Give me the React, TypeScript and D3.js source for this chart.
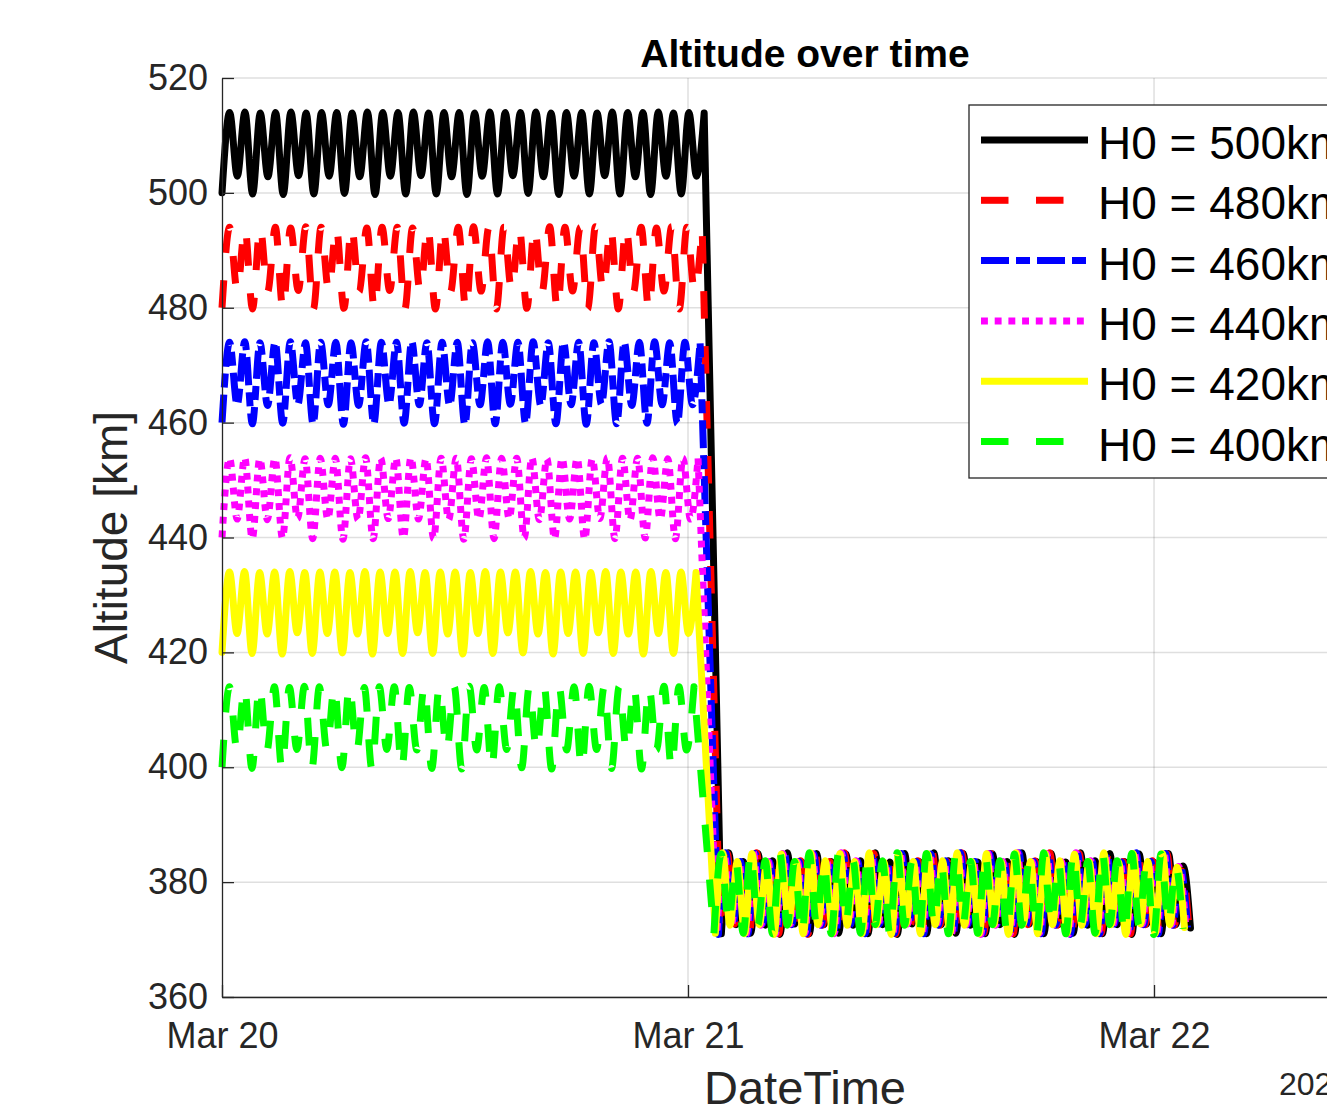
import React, { useEffect, useRef } from 'react';
import * as d3 from 'd3';

// legend / series
const seriesNames = ['H0 = 500km', 'H0 = 480km', 'H0 = 460km', 'H0 = 440km', 'H0 = 420km', 'H0 = 400km'];
const seriesColors = ['#000000', '#ff0000', '#0000ff', '#ff00ff', '#ffff00', '#00ff00'];
const seriesDash = [null, '27.5,27.5', '28,7,14,7', '6.9,6.8', null, '27.5,27.5'];

// orbit period (minutes) before the drop, read from trough spacing
const phase1Period = [94.6, 94.2, 93.8, 93.4, 93.0, 92.6];
// start of the low orbit (minutes after Mar 20 00:00) and its period
const phase2Start = [1543, 1538.5, 1534, 1529, 1524.5, 1520];
const phase2Period = 90.6;

// altitude at each extremum (km): start, then peak / shallow trough / peak / deep trough per orbit
const alt500 = [
  500.0,
  514.0, 502.9, 514.1, 499.8, 513.9, 502.8, 514.0, 499.7, 514.1, 503.0, 513.9, 499.8,
  514.0, 502.9, 514.0, 499.9, 513.9, 502.8, 514.1, 499.7, 514.0, 502.9, 514.0, 499.8,
  514.1, 503.0, 513.9, 499.8, 514.0, 502.8, 514.0, 499.7, 513.9, 502.9, 514.1, 499.8,
  514.0, 503.0, 514.0, 499.9, 514.1, 502.8, 513.9, 499.7, 514.0, 502.9, 514.0, 499.8,
  513.9, 503.0, 514.1, 499.8, 514.0, 502.8, 514.0, 499.7, 514.1, 502.9, 513.9, 499.8,
  514.0, 502.9, 513.9,
];
const alt480 = [
  480.0,
  494.0, 482.9, 493.9, 479.8, 494.1, 482.8, 494.0, 479.7, 493.9, 483.0, 494.1, 479.8,
  494.0, 482.9, 494.0, 479.9, 494.1, 482.8, 493.9, 479.7, 494.0, 483.0, 494.0, 479.8,
  493.9, 482.9, 494.1, 479.8, 494.0, 482.8, 494.0, 479.7, 494.1, 482.9, 493.9, 479.8,
  494.0, 483.0, 494.0, 479.9, 493.9, 482.8, 494.1, 479.7, 494.0, 482.9, 494.0, 479.8,
  494.1, 483.0, 493.9, 479.8, 494.0, 482.8, 494.0, 479.7, 493.9, 482.9, 494.1, 479.8,
  494.0, 482.9, 494.0,
];
const alt460 = [
  460.0,
  474.0, 463.1, 474.1, 459.8, 473.9, 463.0, 474.0, 459.9, 474.1, 463.2, 473.9, 459.8,
  474.0, 463.1, 474.0, 459.7, 473.9, 463.0, 474.1, 459.8, 474.0, 463.2, 474.0, 459.9,
  474.1, 463.1, 473.9, 459.8, 474.0, 463.0, 474.0, 459.7, 473.9, 463.1, 474.1, 459.8,
  474.0, 463.2, 474.0, 459.9, 474.1, 463.0, 473.9, 459.8, 474.0, 463.1, 474.0, 459.7,
  473.9, 463.2, 474.1, 459.8, 474.0, 463.0, 474.0, 459.9, 474.1, 463.1, 473.9, 459.8,
  474.0, 463.1, 474.0,
];
const alt440 = [
  440.0,
  453.8, 443.2, 453.9, 439.8, 453.7, 443.1, 453.8, 439.9, 453.9, 443.3, 453.7, 439.8,
  453.8, 443.2, 453.8, 439.7, 453.7, 443.1, 453.9, 439.8, 453.8, 443.3, 453.8, 439.9,
  453.9, 443.2, 453.7, 439.8, 453.8, 443.1, 453.8, 439.7, 453.7, 443.2, 453.9, 439.8,
  453.8, 443.3, 453.8, 439.9, 453.9, 443.1, 453.7, 439.8, 453.8, 443.2, 453.8, 439.7,
  453.7, 443.3, 453.9, 439.8, 453.8, 443.1, 453.8, 439.9, 453.9, 443.2, 453.7, 439.8,
  453.8, 443.2, 453.8,
];
const alt420 = [
  420.0,
  434.0, 423.3, 434.1, 419.8, 433.9, 423.2, 434.0, 419.7, 434.1, 423.4, 433.9, 419.8,
  434.0, 423.3, 434.0, 419.9, 433.9, 423.2, 434.1, 419.7, 434.0, 423.3, 434.0, 419.8,
  434.1, 423.4, 433.9, 419.8, 434.0, 423.2, 434.0, 419.7, 433.9, 423.3, 434.1, 419.8,
  434.0, 423.4, 434.0, 419.9, 434.1, 423.2, 433.9, 419.7, 434.0, 423.3, 434.0, 419.8,
  433.9, 423.4, 434.1, 419.8, 434.0, 423.2, 434.0, 419.7, 434.1, 423.3, 433.9, 419.8,
  434.0, 423.3, 433.9,
];
const alt400 = [
  400.0,
  414.0, 403.0, 413.9, 399.8, 414.1, 402.9, 414.0, 399.7, 413.9, 403.1, 414.1, 399.8,
  414.0, 403.0, 414.0, 399.9, 414.1, 402.9, 413.9, 399.7, 414.0, 403.1, 414.0, 399.8,
  413.9, 403.0, 414.1, 399.8, 414.0, 402.9, 414.0, 399.7, 414.1, 403.0, 413.9, 399.8,
  414.0, 403.1, 414.0, 399.9, 413.9, 402.9, 414.1, 399.7, 414.0, 403.0, 414.0, 399.8,
  414.1, 403.1, 413.9, 399.8, 414.0, 402.9, 414.0, 399.7, 413.9, 403.0, 414.1, 399.8,
  414.0, 403.0, 414.0,
];

// low orbit after the drop: deep trough / peak / shallow trough / peak per orbit, then end point
const low500 = [
  371.0, 385.1, 372.6, 383.6, 371.1, 385.0, 372.5, 383.7, 370.9, 385.1, 372.7, 383.5,
  371.0, 385.0, 372.6, 383.6, 371.1, 384.9, 372.5, 383.7, 371.0, 385.1, 372.6, 383.5,
  370.9, 385.0, 372.7, 383.6, 371.0, 385.1, 372.6, 383.7, 371.1, 385.0, 372.5, 383.5,
  371.0, 384.9, 372.6, 383.6, 370.9, 385.1, 372.7, 383.6, 371.0, 385.0, 372.6, 383.5,
  371.1, 385.1, 372.5, 383.7, 371.0, 385.0, 372.6, 383.6, 370.9, 384.9, 372.7, 383.5,
  371.0, 385.0, 372.6, 382.8, 372.0,
];
const low480 = [
  371.1, 385.0, 372.7, 383.5, 371.0, 385.1, 372.6, 383.6, 371.0, 384.9, 372.6, 383.7,
  370.9, 385.0, 372.5, 383.6, 371.0, 385.1, 372.7, 383.5, 371.1, 385.0, 372.6, 383.6,
  371.0, 384.9, 372.6, 383.7, 370.9, 385.0, 372.5, 383.6, 371.0, 385.1, 372.7, 383.5,
  371.1, 385.0, 372.6, 383.6, 371.0, 384.9, 372.6, 383.7, 370.9, 385.1, 372.5, 383.6,
  371.0, 385.0, 372.7, 383.5, 371.1, 385.1, 372.6, 383.6, 371.0, 385.0, 372.6, 383.7,
  370.9, 384.9, 372.5, 382.7, 371.9,
];
const low460 = [
  370.9, 385.1, 372.6, 383.6, 371.0, 385.0, 372.7, 383.5, 371.1, 385.1, 372.6, 383.6,
  371.0, 384.9, 372.5, 383.7, 370.9, 385.0, 372.6, 383.6, 371.0, 385.1, 372.7, 383.5,
  371.1, 385.0, 372.6, 383.6, 371.0, 384.9, 372.5, 383.7, 370.9, 385.1, 372.6, 383.6,
  371.0, 385.0, 372.7, 383.5, 371.1, 385.1, 372.6, 383.6, 371.0, 385.0, 372.5, 383.7,
  370.9, 384.9, 372.6, 383.6, 371.0, 385.0, 372.7, 383.5, 371.1, 385.1, 372.6, 383.6,
  371.0, 385.0, 372.5, 382.8, 372.1,
];
const low440 = [
  371.0, 385.0, 372.6, 383.7, 370.9, 385.1, 372.5, 383.6, 371.0, 385.0, 372.7, 383.5,
  371.1, 384.9, 372.6, 383.6, 371.0, 385.1, 372.6, 383.7, 370.9, 385.0, 372.5, 383.6,
  371.0, 385.1, 372.7, 383.5, 371.1, 385.0, 372.6, 383.6, 371.0, 384.9, 372.6, 383.7,
  370.9, 385.0, 372.5, 383.6, 371.0, 385.1, 372.7, 383.5, 371.1, 385.0, 372.6, 383.6,
  371.0, 385.1, 372.6, 383.7, 370.9, 384.9, 372.5, 383.6, 371.0, 385.0, 372.7, 383.5,
  371.1, 385.1, 372.6, 382.7, 372.0,
];
const low420 = [
  371.1, 385.1, 372.5, 383.6, 371.0, 385.0, 372.6, 383.5, 370.9, 384.9, 372.7, 383.6,
  371.0, 385.1, 372.6, 383.7, 371.1, 385.0, 372.5, 383.6, 371.0, 385.1, 372.6, 383.5,
  370.9, 385.0, 372.7, 383.6, 371.0, 384.9, 372.6, 383.7, 371.1, 385.1, 372.5, 383.6,
  371.0, 385.0, 372.6, 383.5, 370.9, 385.1, 372.7, 383.6, 371.0, 385.0, 372.6, 383.7,
  371.1, 384.9, 372.5, 383.6, 371.0, 385.1, 372.6, 383.5, 370.9, 385.0, 372.7, 383.6,
  371.0, 385.0, 372.6, 382.6, 372.1,
];
const low400 = [
  371.0, 384.9, 372.7, 383.6, 371.1, 385.1, 372.6, 383.7, 371.0, 385.0, 372.5, 383.6,
  370.9, 385.1, 372.6, 383.5, 371.0, 385.0, 372.7, 383.6, 371.1, 384.9, 372.6, 383.7,
  371.0, 385.1, 372.5, 383.6, 370.9, 385.0, 372.6, 383.5, 371.0, 385.1, 372.7, 383.6,
  371.1, 385.0, 372.6, 383.7, 371.0, 384.9, 372.5, 383.6, 370.9, 385.1, 372.6, 383.5,
  371.0, 385.0, 372.7, 383.6, 371.1, 385.1, 372.6, 383.7, 371.0, 385.0, 372.5, 383.6,
  370.9, 384.9, 372.6, 382.8, 371.9,
];

const phase1Alt = [alt500, alt480, alt460, alt440, alt420, alt400];
const phase2Alt = [low500, low480, low460, low440, low420, low400];

const yTicks = [360, 380, 400, 420, 440, 460, 480, 500, 520];
const xTickDays = [20, 21, 22];
const yearLabel = '2024';

const START = new Date(2024, 2, 20, 0, 0, 0);
const END = new Date(2024, 2, 22, 12, 3, 0);
const atMinute = (m: number) => new Date(START.getTime() + m * 60000);

const FONT = '"Liberation Sans", Arial, Helvetica, sans-serif';
const INK = '#262626';

export default function App() {
  const ref = useRef<SVGSVGElement>(null);

  useEffect(() => {
    if (!ref.current) return;
    const svg = d3.select(ref.current);
    svg.selectAll('*').remove();

    const left = 222, right = 1388, top = 78, bottom = 997;

    const x = d3.scaleTime().domain([START, END]).range([left, right]);
    const y = d3.scaleLinear().domain([360, 520]).range([bottom, top]);
    const tickDates = xTickDays.map(d => new Date(2024, 2, d));

    // grid
    const grid = svg.append('g').attr('stroke', INK).attr('stroke-opacity', 0.15).attr('stroke-width', 1.5);
    grid.selectAll('.gy').data(yTicks).enter().append('line')
      .attr('x1', left).attr('x2', right)
      .attr('y1', d => y(d)).attr('y2', d => y(d));
    grid.selectAll('.gx').data(tickDates.slice(1)).enter().append('line')
      .attr('x1', d => x(d)).attr('x2', d => x(d))
      .attr('y1', top).attr('y2', bottom);

    // series
    const line = d3.line<[Date, number]>()
      .x(d => x(d[0]))
      .y(d => y(d[1]))
      .curve(d3.curveMonotoneX);

    const lines = svg.append('g');
    phase1Alt.forEach((vals, i) => {
      const step1 = phase1Period[i] / 4;
      const p1: [Date, number][] = vals.map((v, k) => [atMinute(k * step1), v]);
      const step2 = phase2Period / 4;
      const p2: [Date, number][] = phase2Alt[i].map((v, k) => [atMinute(phase2Start[i] + k * step2), v]);
      const d = (line(p1) || '') + (line(p2) || '').replace(/^M/, 'L');
      const path = lines.append('path')
        .attr('d', d)
        .attr('fill', 'none')
        .attr('stroke', seriesColors[i])
        .attr('stroke-width', 7)
        .attr('stroke-linejoin', 'round');
      if (seriesDash[i]) path.attr('stroke-dasharray', seriesDash[i]).attr('stroke-linecap', 'butt');
      else path.attr('stroke-linecap', 'round');
    });

    // axes
    const yAxis = d3.axisLeft(y).tickValues(yTicks).tickSizeInner(-12).tickSizeOuter(0).tickPadding(14);
    const gy = svg.append('g').attr('transform', `translate(${left},0)`).call(yAxis);
    const xAxis = d3.axisBottom(x).tickValues(tickDates)
      .tickFormat(d => d3.timeFormat('%b %d')(d as Date))
      .tickSizeInner(-12).tickSizeOuter(0).tickPadding(25);
    const gx = svg.append('g').attr('transform', `translate(0,${bottom})`).call(xAxis);

    [gx, gy].forEach(g => {
      g.attr('font-family', FONT).attr('font-size', 36);
      g.selectAll('.domain').attr('stroke', INK).attr('stroke-width', 1.3);
      g.selectAll('.tick line').attr('stroke', INK).attr('stroke-width', 1.3);
      g.selectAll('.tick text').attr('fill', INK);
    });

    svg.append('text')
      .attr('x', 1279).attr('y', 1095)
      .attr('font-family', FONT).attr('font-size', 32).attr('fill', INK)
      .text(yearLabel);

    // labels
    svg.append('text')
      .attr('x', (left + right) / 2).attr('y', 1104)
      .attr('text-anchor', 'middle')
      .attr('font-family', FONT).attr('font-size', 47).attr('fill', INK)
      .text('DateTime');
    svg.append('text')
      .attr('transform', `translate(127,${(top + bottom) / 2}) rotate(-90)`)
      .attr('text-anchor', 'middle')
      .attr('font-family', FONT).attr('font-size', 46).attr('fill', INK)
      .text('Altitude [km]');
    svg.append('text')
      .attr('x', (left + right) / 2).attr('y', 67)
      .attr('text-anchor', 'middle')
      .attr('font-family', FONT).attr('font-size', 39).attr('font-weight', 'bold').attr('fill', '#000')
      .text('Altitude over time');

    // legend
    const lg = svg.append('g');
    lg.append('rect')
      .attr('x', 969).attr('y', 105).attr('width', 500).attr('height', 373)
      .attr('fill', '#fff').attr('stroke', INK).attr('stroke-width', 1.3);
    seriesNames.forEach((name, i) => {
      const cy = 140 + i * 60.3;
      const l = lg.append('line')
        .attr('x1', 981).attr('x2', 1088).attr('y1', cy).attr('y2', cy)
        .attr('stroke', seriesColors[i]).attr('stroke-width', 7);
      if (seriesDash[i]) l.attr('stroke-dasharray', seriesDash[i]);
      lg.append('text')
        .attr('x', 1098).attr('y', cy + 19)
        .attr('font-family', FONT).attr('font-size', 46).attr('fill', '#000')
        .text(name);
    });
  }, []);

  return (
    <svg
      ref={ref}
      width={1327}
      height={1108}
      style={{ position: 'absolute', left: 0, top: 0, background: '#fff' }}
    />
  );
}
